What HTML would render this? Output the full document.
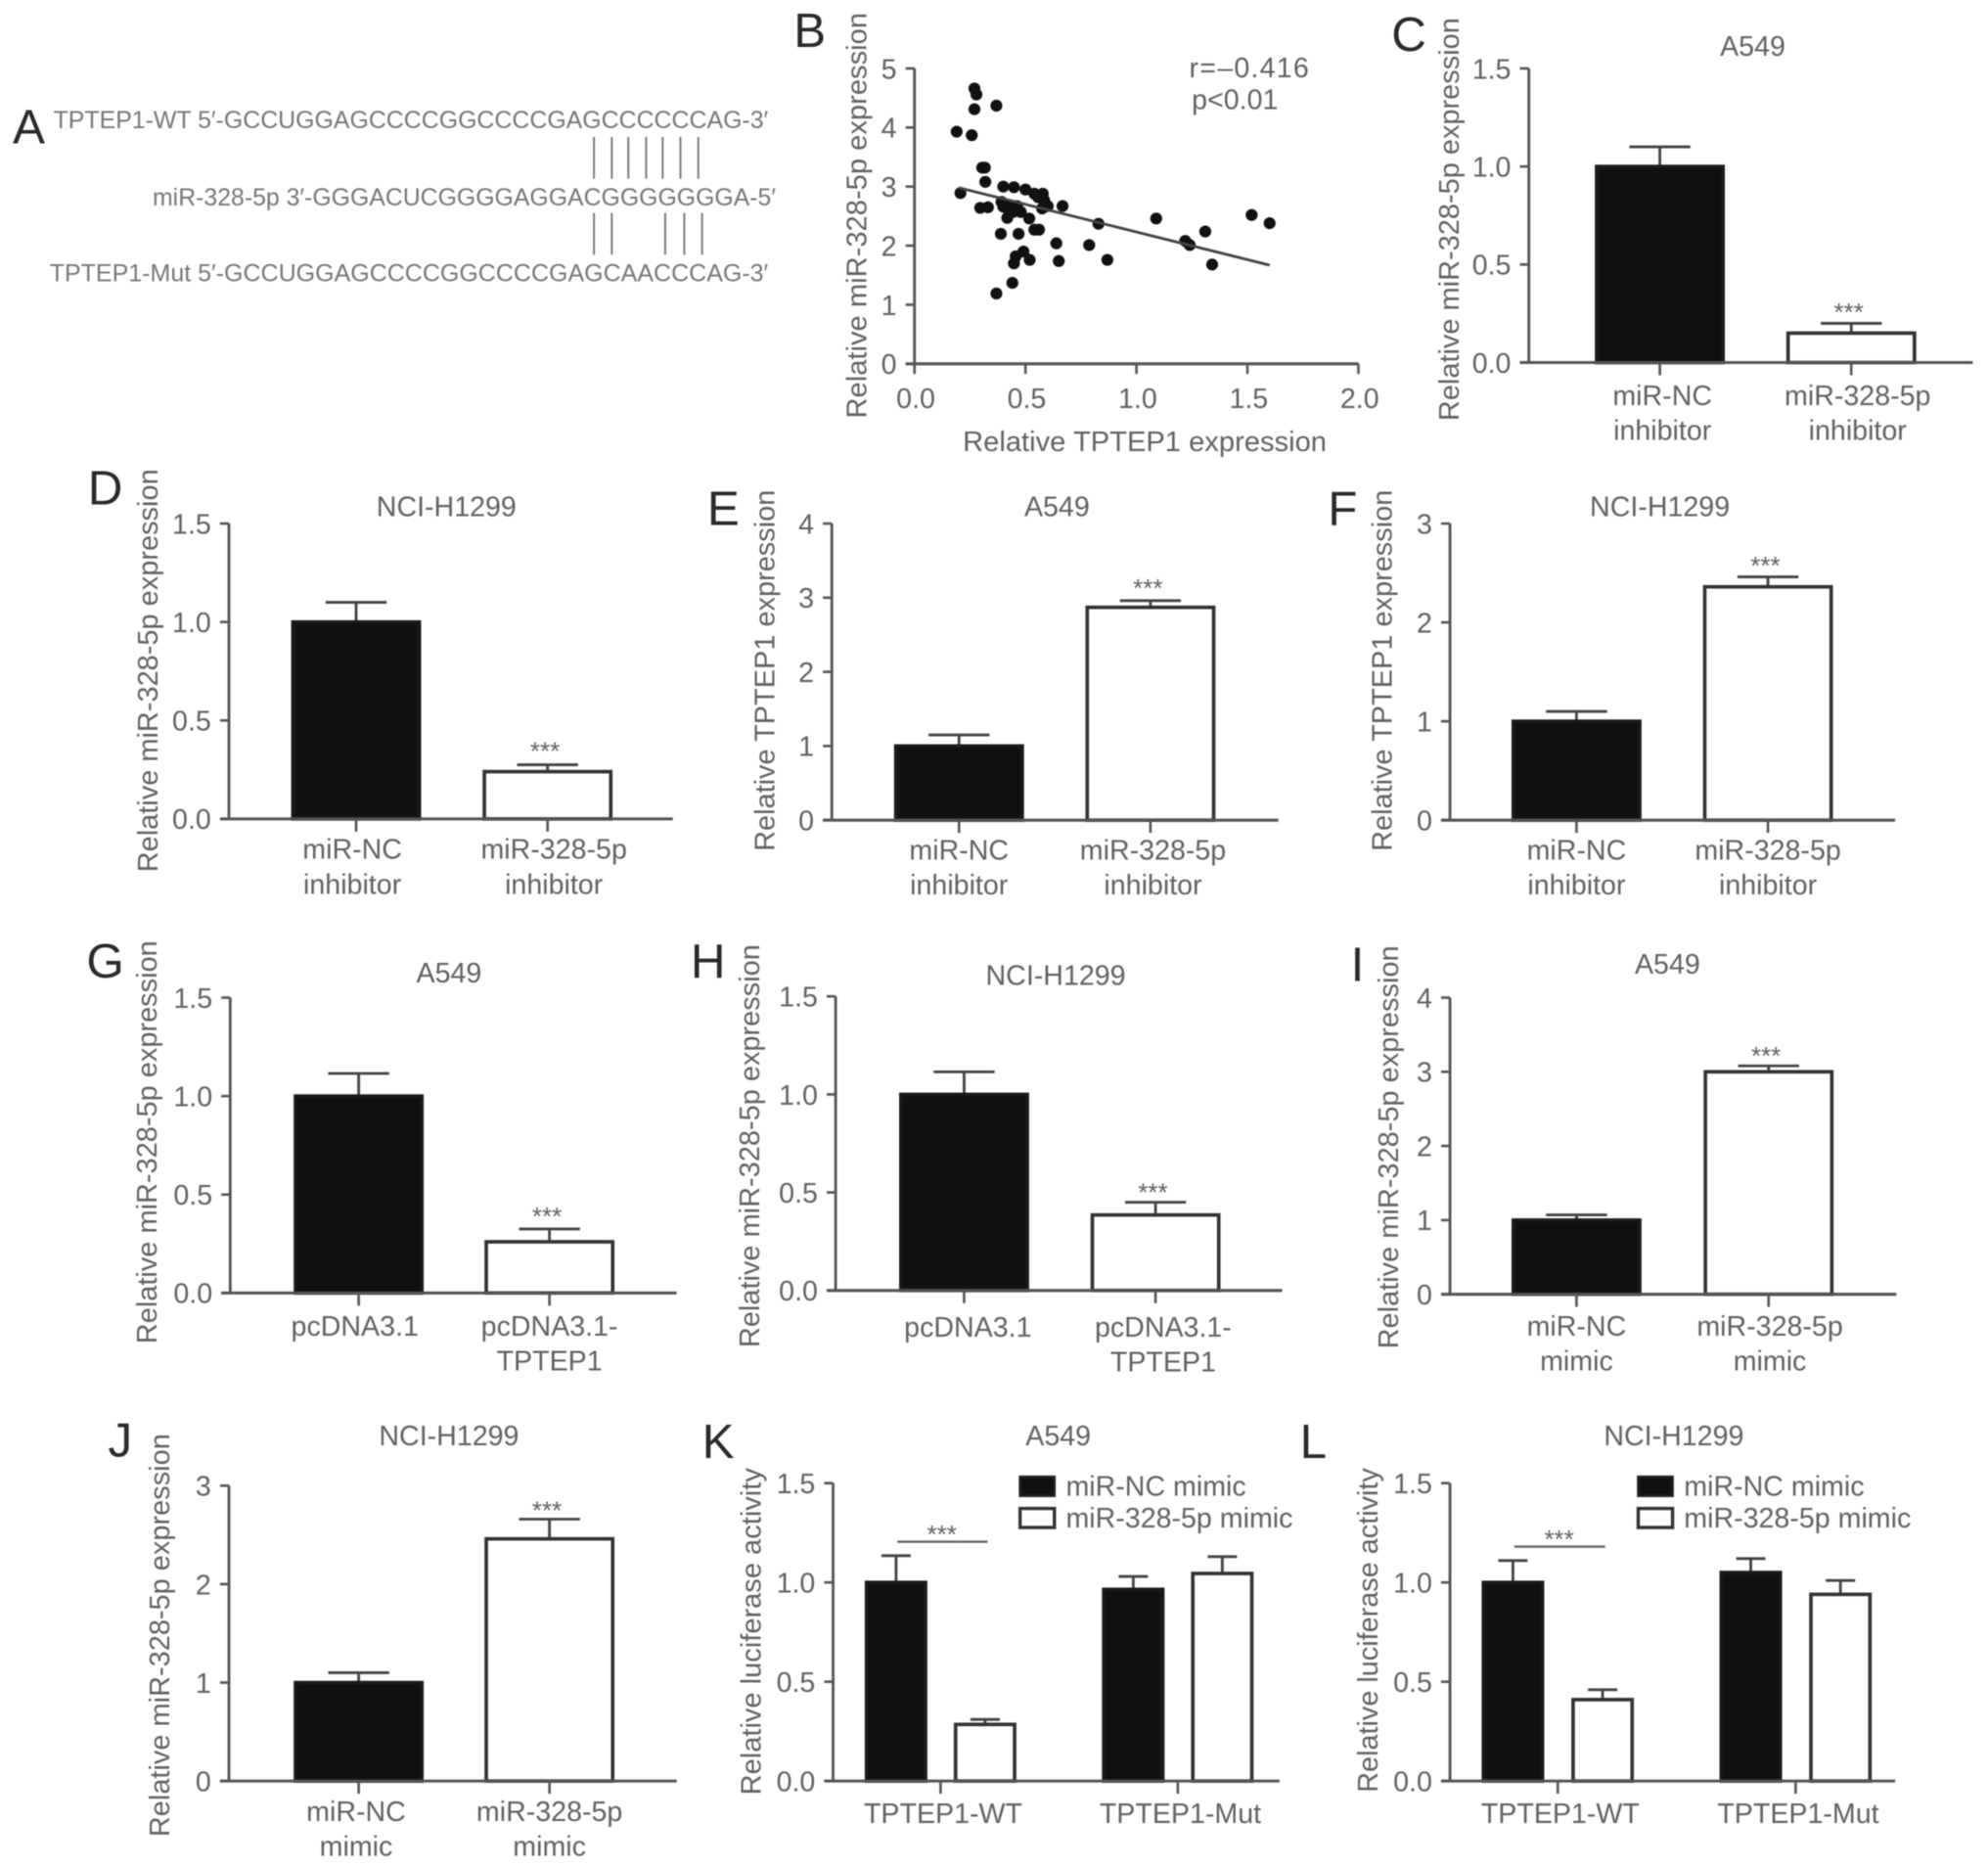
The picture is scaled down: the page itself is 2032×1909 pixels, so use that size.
<!DOCTYPE html>
<html lang="en">
<head>
<meta charset="utf-8">
<title>TPTEP1 and miR-328-5p multi-panel figure</title>
<style>
html,body{margin:0;padding:0;background:#fff;width:2032px;height:1909px;overflow:hidden}
svg{display:block;width:2032px;height:1909px;filter:blur(0.55px)}
text{font-family:"Liberation Sans",Arial,sans-serif;fill:#626262;font-size:22px}
.letter{font-size:38px;fill:#2a2a2a}
.seq{font-size:19.5px;fill:#777}
.pair{stroke:#777;stroke-width:1.5}
</style>
</head>
<body>
<svg id="figure" viewBox="0 0 1563 1473.6" preserveAspectRatio="none" xmlns="http://www.w3.org/2000/svg">
  <rect x="0" y="0" width="1563" height="1474" fill="#fff"/>

  <!-- panel letters -->
  <text class="letter" x="10" y="113">A</text>
  <text class="letter" x="624" y="37">B</text>
  <text class="letter" x="1094" y="40">C</text>
  <text class="letter" x="69" y="398">D</text>
  <text class="letter" x="556" y="414">E</text>
  <text class="letter" x="1044" y="414">F</text>
  <text class="letter" x="68" y="771">G</text>
  <text class="letter" x="543" y="771">H</text>
  <text class="letter" x="1062" y="774">I</text>
  <text class="letter" x="85" y="1149">J</text>
  <text class="letter" x="552" y="1150">K</text>
  <text class="letter" x="1022" y="1150">L</text>

  <!-- panel A: sequence alignment -->
  <text class="seq" x="42" y="101" textLength="562" lengthAdjust="spacingAndGlyphs">TPTEP1-WT 5′-GCCUGGAGCCCCGGCCCCGAGCCCCCCAG-3′</text>
  <text class="seq" x="120" y="162" textLength="490" lengthAdjust="spacingAndGlyphs">miR-328-5p 3′-GGGACUCGGGGAGGACGGGGGGGA-5′</text>
  <text class="seq" x="39" y="222" textLength="565" lengthAdjust="spacingAndGlyphs">TPTEP1-Mut 5′-GCCUGGAGCCCCGGCCCCGAGCAACCCAG-3′</text>
  <g>
    <line class="pair" x1="467" x2="467" y1="108" y2="141"/><line class="pair" x1="481" x2="481" y1="108" y2="141"/>
    <line class="pair" x1="494" x2="494" y1="108" y2="141"/><line class="pair" x1="508" x2="508" y1="108" y2="141"/>
    <line class="pair" x1="521" x2="521" y1="108" y2="141"/><line class="pair" x1="535" x2="535" y1="108" y2="141"/>
    <line class="pair" x1="549" x2="549" y1="108" y2="141"/>
  </g>
  <g>
    <line class="pair" x1="467" x2="467" y1="168" y2="201"/><line class="pair" x1="481" x2="481" y1="168" y2="201"/>
    <line class="pair" x1="523" x2="523" y1="168" y2="201"/><line class="pair" x1="538" x2="538" y1="168" y2="201"/>
    <line class="pair" x1="552" x2="552" y1="168" y2="201"/>
  </g>

  <!-- panel titles -->
  <text x="1378" y="44" text-anchor="middle">A549</text>
  <text x="351" y="407" text-anchor="middle">NCI-H1299</text>
  <text x="831" y="407" text-anchor="middle">A549</text>
  <text x="1305" y="407" text-anchor="middle">NCI-H1299</text>
  <text x="353" y="775" text-anchor="middle">A549</text>
  <text x="830" y="777" text-anchor="middle">NCI-H1299</text>
  <text x="1311" y="768" text-anchor="middle">A549</text>
  <text x="353" y="1140" text-anchor="middle">NCI-H1299</text>
  <text x="832" y="1140" text-anchor="middle">A549</text>
  <text x="1316" y="1140" text-anchor="middle">NCI-H1299</text>

  <!-- y axis titles -->
  <text text-anchor="middle" textLength="320" lengthAdjust="spacingAndGlyphs" transform="translate(681,170) rotate(-90)">Relative miR-328-5p expression</text>
  <text text-anchor="middle" textLength="318" lengthAdjust="spacingAndGlyphs" transform="translate(1147,173) rotate(-90)">Relative miR-328-5p expression</text>
  <text text-anchor="middle" textLength="318" lengthAdjust="spacingAndGlyphs" transform="translate(124,529) rotate(-90)">Relative miR-328-5p expression</text>
  <text text-anchor="middle" textLength="285" lengthAdjust="spacingAndGlyphs" transform="translate(609,529) rotate(-90)">Relative TPTEP1 expression</text>
  <text text-anchor="middle" textLength="285" lengthAdjust="spacingAndGlyphs" transform="translate(1094,529) rotate(-90)">Relative TPTEP1 expression</text>
  <text text-anchor="middle" textLength="318" lengthAdjust="spacingAndGlyphs" transform="translate(123,901) rotate(-90)">Relative miR-328-5p expression</text>
  <text text-anchor="middle" textLength="318" lengthAdjust="spacingAndGlyphs" transform="translate(597,904) rotate(-90)">Relative miR-328-5p expression</text>
  <text text-anchor="middle" textLength="318" lengthAdjust="spacingAndGlyphs" transform="translate(1099,905) rotate(-90)">Relative miR-328-5p expression</text>
  <text text-anchor="middle" textLength="318" lengthAdjust="spacingAndGlyphs" transform="translate(133,1290) rotate(-90)">Relative miR-328-5p expression</text>
  <text text-anchor="middle" textLength="258" lengthAdjust="spacingAndGlyphs" transform="translate(598,1287) rotate(-90)">Relative luciferase activity</text>
  <text text-anchor="middle" textLength="256" lengthAdjust="spacingAndGlyphs" transform="translate(1083,1286) rotate(-90)">Relative luciferase activity</text>

  <!-- panel B annotations -->
  <text x="900" y="356" text-anchor="middle" textLength="286" lengthAdjust="spacingAndGlyphs">Relative TPTEP1 expression</text>
  <text x="935" y="61" textLength="94">r=–0.416</text>
  <text x="937" y="86">p&lt;0.01</text>

  <!-- legends -->
  <g>
    <rect x="802" y="1165" width="27" height="15" fill="#111" stroke="#222" stroke-width="2"/>
    <text x="838" y="1180">miR-NC mimic</text>
    <rect x="802" y="1190" width="27" height="15" fill="#fff" stroke="#333" stroke-width="2.6"/>
    <text x="838" y="1205">miR-328-5p mimic</text>
  </g>
  <g>
    <rect x="1288" y="1165" width="27" height="15" fill="#111" stroke="#222" stroke-width="2"/>
    <text x="1324" y="1180">miR-NC mimic</text>
    <rect x="1288" y="1190" width="27" height="15" fill="#fff" stroke="#333" stroke-width="2.6"/>
    <text x="1324" y="1205">miR-328-5p mimic</text>
  </g>

  <g id="charts"></g>
</svg>

<script>
// ---- Scatter data (panel B) ----
const scatterX = [0.19,0.258,0.27,0.279,0.27,0.369,0.305,0.317,0.319,0.207,0.296,0.331,0.40,0.448,0.50,0.54,0.578,0.557,0.584,0.392,0.40,0.436,0.462,0.418,0.444,0.479,0.418,0.517,0.575,0.60,0.667,0.54,0.561,0.389,0.469,0.639,0.787,0.829,1.089,1.22,1.24,1.31,1.519,1.60,1.341,0.869,0.65,0.519,0.491,0.456,0.448,0.441,0.369];
const scatterY = [3.93,3.87,4.66,4.56,4.31,4.37,3.32,3.32,3.08,2.89,2.64,2.65,3.0,2.99,2.95,2.88,2.88,2.82,2.77,2.74,2.66,2.68,2.67,2.63,2.57,2.57,2.47,2.46,2.63,2.67,2.67,2.27,2.27,2.2,2.2,2.04,2.01,2.37,2.46,2.08,2.01,2.24,2.52,2.38,1.68,1.76,1.74,1.76,1.9,1.82,1.70,1.37,1.19];
const trendX = [0.2, 1.6];
const trendY = [2.98, 1.67];
const scatterXTicks = ['0.0','0.5','1.0','1.5','2.0'];
const scatterYTicks = ['0','1','2','3','4','5'];

// ---- Tick labels ----
const ticks15 = ['0.0','0.5','1.0','1.5'];
const ticks3 = ['0','1','2','3'];
const ticks4 = ['0','1','2','3','4'];

// ---- Categories ----
const inhibitorCats = [['miR-NC','inhibitor'],['miR-328-5p','inhibitor']];
const plasmidCats = [['pcDNA3.1'],['pcDNA3.1-','TPTEP1']];
const mimicCats = [['miR-NC','mimic'],['miR-328-5p','mimic']];
const reporterCats = ['TPTEP1-WT','TPTEP1-Mut'];

// ---- Bar values and error bars ----
const valuesC = [1.0, 0.15];
const errorsC = [0.1, 0.05];
const valuesD = [1.0, 0.24];
const errorsD = [0.1, 0.035];
const valuesE = [1.0, 2.87];
const errorsE = [0.15, 0.09];
const valuesF = [1.0, 2.36];
const errorsF = [0.1, 0.1];
const valuesG = [1.0, 0.26];
const errorsG = [0.115, 0.065];
const valuesH = [1.0, 0.385];
const errorsH = [0.115, 0.065];
const valuesI = [1.0, 3.0];
const errorsI = [0.07, 0.08];
const valuesJ = [1.0, 2.46];
const errorsJ = [0.1, 0.2];
const valuesK = [1.0, 0.285, 0.965, 1.045];
const errorsK = [0.135, 0.025, 0.065, 0.085];
const valuesL = [1.0, 0.41, 1.05, 0.94];
const errorsL = [0.11, 0.05, 0.07, 0.07];

const NS = 'http://www.w3.org/2000/svg';
const root = document.getElementById('charts');
const AXIS = '#555';

function make(tag, attrs, parent, text) {
  const node = document.createElementNS(NS, tag);
  for (const k in attrs) node.setAttribute(k, attrs[k]);
  if (text !== undefined) node.textContent = text;
  parent.appendChild(node);
  return node;
}
function linearAxis(min, max, pxMin, pxMax) {
  return v => pxMin + (v - min) / (max - min) * (pxMax - pxMin);
}
function drawYAxis(group, id, x, yScale, labels, bottomValue, stepValue, right) {
  const spine = make('line', {x1:x, x2:x, y1:yScale(bottomValue), y2:yScale(bottomValue + stepValue*(labels.length-1)), stroke:AXIS, 'stroke-width':2.2}, group);
  
  
  const base = make('line', {x1:x-7, x2:right, y1:yScale(bottomValue), y2:yScale(bottomValue), stroke:AXIS, 'stroke-width':2.4}, group);
  
  
  labels.forEach((label, i) => {
    const y = yScale(bottomValue + stepValue*i);
    const tick = make('line', {x1:x-7, x2:x, y1:y, y2:y, stroke:AXIS, 'stroke-width':2}, group);
    
    
    const t = make('text', {x:x-14, y:y+8, 'text-anchor':'end'}, group, label);
    
    
  });
}
function drawBarSeries(group, id, values, errors, yScale, centerOf, barW) {
  const y0 = yScale(0);
  values.forEach((v, i) => {
    const c = centerOf(i);
    const top = yScale(v);
    const capY = yScale(v + errors[i]);
    const stem = make('line', {x1:c, x2:c, y1:top, y2:capY, stroke:'#444', 'stroke-width':2.2}, group);
    
    
    const cap = make('line', {x1:c-barW*0.235, x2:c+barW*0.235, y1:capY, y2:capY, stroke:'#444', 'stroke-width':2.2}, group);
    
    
    const dark = i % 2 === 0;
    const bar = make('rect', {x:c-barW/2+1.3, y:top, width:barW-2.6, height:y0-top, fill:dark?'#111':'#fff', stroke:dark?'#1a1a1a':'#333', 'stroke-width':2.8}, group);
    
    
  });
}
function drawStars(group, id, x, baseline) {
  const s = make('text', {x:x, y:baseline, 'text-anchor':'middle', style:'font-size:20px'}, group, '***');
  
  
}
function twoBarPanel(id, frame, categories, values, errors, labels, maxValue) {
  const g = make('g', {}, root);
  
  
  const y = linearAxis(0, maxValue, frame.y0, frame.top);
  const step = maxValue / (labels.length - 1);
  const center = i => frame.first + i * frame.step;
  drawBarSeries(g, id, values, errors, y, center, frame.barW);
  drawYAxis(g, id, frame.x, y, labels, 0, step, frame.right);
  categories.forEach((lines, i) => {
    const c = center(i);
    const tick = make('line', {x1:c, x2:c, y1:frame.y0, y2:frame.y0+10, stroke:AXIS, 'stroke-width':2}, g);
    
    
    lines.forEach((line, j) => {
      const t = make('text', {x:c + frame.labelShift[i], y:frame.y0 + 30.5 + frame.labelDrop + j*27.5, 'text-anchor':'middle'}, g, line);
      
      
    });
  });
  drawStars(g, id, center(1) - 2, y(values[1] + errors[1]) + 2 - frame.starLift);
}
function groupedPanel(id, frame, categories, values, errors, labels, maxValue) {
  const g = make('g', {}, root);
  
  
  const y = linearAxis(0, maxValue, frame.y0, frame.top);
  const step = maxValue / (labels.length - 1);
  const center = i => frame.first + i * frame.step + Math.floor(i/2) * frame.groupGap;
  drawBarSeries(g, id, values, errors, y, center, frame.barW);
  drawYAxis(g, id, frame.x, y, labels, 0, step, frame.right);
  categories.forEach((label, i) => {
    const c = (center(i*2) + center(i*2+1)) / 2;
    const tick = make('line', {x1:c, x2:c, y1:frame.y0, y2:frame.y0+10, stroke:AXIS, 'stroke-width':2}, g);
    
    
    const t = make('text', {x:c+2, y:frame.y0 + 33, 'text-anchor':'middle'}, g, label);
    
    
  });
  const sigY = y(values[0] + errors[0]) - 11;
  const sig = make('line', {x1:center(0)+1, x2:center(1)+2, y1:sigY, y2:sigY, stroke:'#666', 'stroke-width':1.8}, g);
  
  
  drawStars(g, id, (center(0)+center(1))/2 + 1, sigY + 1);
}
function scatterPanel() {
  const g = make('g', {}, root);
  
  
  const x = linearAxis(0, 2, 719, 1068);
  const y = linearAxis(0, 5, 287, 54);
  drawYAxis(g, 'b', x(0), y, scatterYTicks, 0, 1, x(2));
  scatterXTicks.forEach((label, i) => {
    const v = Number(label);
    const tick = make('line', {x1:x(v), x2:x(v), y1:y(0), y2:y(0)+8, stroke:AXIS, 'stroke-width':2}, g);
    
    
    const t = make('text', {x:x(v)+1, y:y(0)+35, 'text-anchor':'middle'}, g, label);
    
    
  });
  scatterX.forEach((v, i) => {
    const dot = make('circle', {cx:x(v), cy:y(scatterY[i]), r:4.7, fill:'#111'}, g);
    
    
  });
  const line = make('line', {x1:x(trendX[0]), y1:y(trendY[0]), x2:x(trendX[1]), y2:y(trendY[1]), stroke:'#444', 'stroke-width':2.2}, g);
  
  
}

scatterPanel();
twoBarPanel('c', {x:1202,y0:286,top:54,right:1551,first:1305,step:150.5,barW:102,labelShift:[2,5],starLift:4,labelDrop:3}, inhibitorCats, valuesC, errorsC, ticks15, 1.5);
twoBarPanel('d', {x:180,y0:646,top:413,right:529,first:280,step:150.5,barW:102,labelShift:[-3,5],starLift:6,labelDrop:1}, inhibitorCats, valuesD, errorsD, ticks15, 1.5);
twoBarPanel('e', {x:654,y0:647,top:413,right:1005,first:754,step:150.5,barW:102,labelShift:[0,2],starLift:5,labelDrop:0.5}, inhibitorCats, valuesE, errorsE, ticks4, 4);
twoBarPanel('f', {x:1140,y0:647,top:413,right:1490,first:1239.5,step:150.5,barW:102,labelShift:[0,0],starLift:4,labelDrop:0.5}, inhibitorCats, valuesF, errorsF, ticks3, 3);
twoBarPanel('g', {x:181,y0:1020,top:787,right:532,first:282,step:150,barW:102,labelShift:[-3,0],starLift:5,labelDrop:3}, plasmidCats, valuesG, errorsG, ticks15, 1.5);
twoBarPanel('h', {x:657,y0:1018,top:786,right:1008,first:758,step:150.5,barW:102,labelShift:[3,6],starLift:3,labelDrop:6}, plasmidCats, valuesH, errorsH, ticks15, 1.5);
twoBarPanel('i', {x:1140,y0:1021,top:787,right:1491,first:1239.5,step:151,barW:102,labelShift:[0,1],starLift:3,labelDrop:2}, mimicCats, valuesI, errorsI, ticks4, 4);
twoBarPanel('j', {x:180,y0:1405,top:1172,right:532,first:282,step:150,barW:102,labelShift:[-2,0],starLift:2,labelDrop:1}, mimicCats, valuesJ, errorsJ, ticks3, 3);
groupedPanel('k', {x:655,y0:1405,top:1170,right:1006,first:704.5,step:70,groupGap:46.5,barW:49}, reporterCats, valuesK, errorsK, ticks15, 1.5);
groupedPanel('l', {x:1140,y0:1405,top:1170,right:1490,first:1189.5,step:70.5,groupGap:46,barW:49}, reporterCats, valuesL, errorsL, ticks15, 1.5);
</script>
</body>
</html>
